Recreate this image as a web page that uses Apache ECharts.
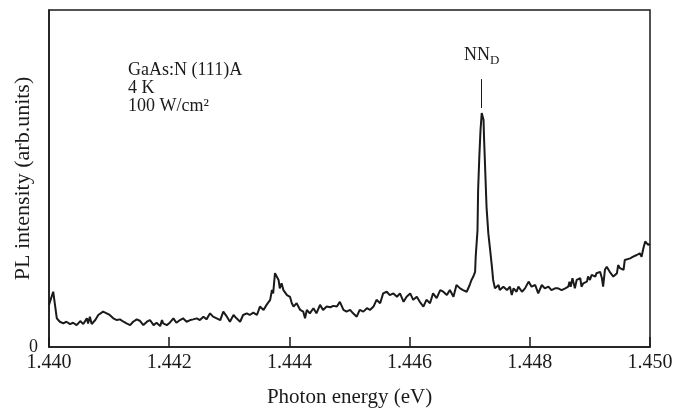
<!DOCTYPE html>
<html>
<head>
<meta charset="utf-8">
<script src="https://cdn.jsdelivr.net/npm/echarts@6/dist/echarts.min.js"></script>
<style>
  html, body { margin: 0; padding: 0; background: #fff; }
  #chart { width: 675px; height: 410px; }
</style>
</head>
<body>
<div id="chart"></div>
<script>
// PL spectrum: photon energy (eV) and intensity (arb. units, 0..100 scale)
const energy = [
  1.44000, 1.44007, 1.44013, 1.44018, 1.44024, 1.44029, 1.44035, 1.44040, 1.44046, 1.44052,
  1.44057, 1.44063, 1.44065, 1.44068, 1.44071, 1.44077, 1.44082, 1.44090, 1.44096, 1.44101,
  1.44107, 1.44113, 1.44118, 1.44124, 1.44129, 1.44135, 1.44140, 1.44146, 1.44151, 1.44157,
  1.44163, 1.44168, 1.44174, 1.44179, 1.44185, 1.44188, 1.44190, 1.44196, 1.44201, 1.44207,
  1.44212, 1.44218, 1.44223, 1.44229, 1.44235, 1.44240, 1.44246, 1.44251, 1.44257, 1.44262,
  1.44268, 1.44273, 1.44279, 1.44285, 1.44290, 1.44296, 1.44301, 1.44307, 1.44312, 1.44318,
  1.44323, 1.44329, 1.44334, 1.44340, 1.44346, 1.44351, 1.44357, 1.44362, 1.44368, 1.44371,
  1.44373, 1.44376, 1.44379, 1.44382, 1.44384, 1.44387, 1.44390, 1.44396, 1.44401, 1.44404,
  1.44407, 1.44412, 1.44418, 1.44423, 1.44426, 1.44429, 1.44434, 1.44440, 1.44445, 1.44451,
  1.44456, 1.44462, 1.44468, 1.44473, 1.44479, 1.44484, 1.44490, 1.44495, 1.44501, 1.44506,
  1.44512, 1.44517, 1.44523, 1.44529, 1.44534, 1.44540, 1.44545, 1.44551, 1.44556, 1.44562,
  1.44567, 1.44573, 1.44579, 1.44584, 1.44590, 1.44595, 1.44601, 1.44606, 1.44612, 1.44617,
  1.44623, 1.44628, 1.44634, 1.44639, 1.44645, 1.44651, 1.44656, 1.44662, 1.44667, 1.44673,
  1.44678, 1.44684, 1.44689, 1.44695, 1.44700, 1.44703, 1.44706, 1.44709, 1.44710, 1.44713,
  1.44714, 1.44716, 1.44718, 1.44720, 1.44723, 1.44724, 1.44726, 1.44728, 1.44731, 1.44734,
  1.44737, 1.44739, 1.44742, 1.44748, 1.44750, 1.44756, 1.44762, 1.44767, 1.44770, 1.44773,
  1.44778, 1.44781, 1.44787, 1.44792, 1.44798, 1.44803, 1.44809, 1.44814, 1.44820, 1.44825,
  1.44831, 1.44836, 1.44842, 1.44847, 1.44853, 1.44859, 1.44864, 1.44866, 1.44868, 1.44871,
  1.44875, 1.44878, 1.44884, 1.44886, 1.44889, 1.44895, 1.44897, 1.44900, 1.44903, 1.44909,
  1.44911, 1.44917, 1.44920, 1.44922, 1.44925, 1.44928, 1.44933, 1.44939, 1.44942, 1.44945,
  1.44947, 1.44950, 1.44956, 1.44958, 1.44961, 1.44967, 1.44972, 1.44978, 1.44983, 1.44986,
  1.44989, 1.44992, 1.44994, 1.44997, 1.45000
];
const intensity = [
  12.5, 16.4, 8.5, 7.5, 7.0, 7.5, 6.8, 7.2, 6.5, 7.7,
  6.8, 8.5, 7.0, 9.0, 6.8, 8.0, 9.5, 10.5, 10.0, 9.5,
  8.5, 8.0, 8.2, 7.5, 7.0, 6.5, 7.5, 8.2, 7.8, 6.5,
  7.5, 8.0, 6.5, 7.2, 6.2, 8.0, 7.0, 6.5, 7.2, 8.5,
  7.2, 8.0, 8.5, 7.5, 8.0, 8.2, 8.5, 8.0, 9.0, 8.2,
  10.0, 9.0, 8.5, 8.0, 10.5, 9.0, 7.5, 9.5, 8.5, 7.5,
  9.5, 10.0, 9.5, 10.2, 9.5, 12.0, 11.0, 12.5, 14.0, 16.9,
  15.9, 21.9, 22.1, 19.9, 17.4, 18.9, 16.9, 15.4, 14.9, 13.0,
  12.0, 13.0, 11.0, 10.5, 8.5, 11.0, 10.0, 11.5, 10.0, 12.5,
  11.0, 12.0, 11.8, 12.2, 12.0, 13.4, 11.0, 10.5, 11.0, 10.0,
  9.0, 11.0, 10.5, 11.5, 11.0, 12.0, 14.0, 13.0, 15.9, 16.4,
  15.4, 15.9, 14.9, 15.9, 13.4, 14.9, 15.9, 14.0, 14.9, 13.4,
  12.0, 14.0, 13.0, 15.9, 14.5, 16.9, 16.4, 15.4, 16.9, 14.9,
  18.4, 17.4, 16.9, 16.4, 18.4, 19.9, 20.9, 22.3, 26.8, 34.7,
  46.6, 56.5, 64.4, 69.4, 67.4, 61.4, 51.5, 41.6, 33.7, 28.8,
  23.8, 19.9, 17.4, 18.4, 16.9, 17.9, 16.9, 17.9, 15.4, 17.4,
  16.4, 17.9, 16.4, 17.4, 19.4, 17.9, 18.4, 15.9, 18.4, 17.4,
  17.9, 16.9, 17.4, 17.4, 16.9, 17.4, 17.9, 19.4, 17.9, 20.4,
  17.4, 19.9, 20.4, 17.9, 18.9, 19.4, 20.9, 19.9, 21.4, 20.9,
  21.9, 22.3, 20.4, 17.9, 22.9, 23.8, 22.3, 20.9, 20.4, 21.9,
  24.3, 23.4, 22.9, 25.8, 25.3, 26.3, 26.8, 27.3, 27.8, 26.8,
  29.3, 31.3, 30.8, 30.3, 30.6
];
const xTicks = { min: 1.440, max: 1.450, step: 0.002 };
const peakEnergy = 1.4472;
const peakMarker = [70.9, 79.5];
const sampleLines = ["GaAs:N (111)A", "4 K", "100 W/cm²"];

const serif = "'Liberation Serif', 'Times New Roman', serif";
const ink = "#1a1a1a";

const chart = echarts.init(document.getElementById("chart"), null, { renderer: "canvas" });
chart.setOption({
  animation: false,
  backgroundColor: "#fff",
  grid: {
    left: 49,
    right: 25,
    top: 10,
    bottom: 63,
    containLabel: false,
    outerBoundsMode: "none",
    show: true,
    borderColor: ink,
    borderWidth: 1.5
  },
  xAxis: {
    type: "value",
    min: xTicks.min,
    max: xTicks.max,
    interval: xTicks.step,
    name: "Photon energy (eV)",
    nameLocation: "middle",
    nameGap: 40,
    nameTextStyle: { fontFamily: serif, fontSize: 21, color: ink },
    axisLine: { lineStyle: { color: ink, width: 1.5 } },
    axisTick: { inside: true, length: 10, lineStyle: { color: ink, width: 1.5 } },
    axisLabel: {
      fontFamily: serif,
      fontSize: 20,
      color: ink,
      margin: 6,
      formatter: (v) => v.toFixed(3)
    },
    splitLine: { show: false }
  },
  yAxis: {
    type: "value",
    min: 0,
    max: 100,
    interval: 100,
    name: "PL intensity (arb.units)",
    nameLocation: "middle",
    nameGap: 15,
    nameMoveOverlap: false,
    nameTextStyle: { fontFamily: serif, fontSize: 22, color: ink },
    axisLine: { show: true, lineStyle: { color: ink, width: 1.5 } },
    axisTick: { show: false },
    axisLabel: {
      fontFamily: serif,
      fontSize: 18,
      color: ink,
      margin: 11,
      formatter: (v) => (v === 0 ? "0" : "")
    },
    splitLine: { show: false }
  },
  graphic: sampleLines.map((line, i) => ({
    type: "text",
    left: 128,
    top: 61 + i * 18,
    style: {
      text: line,
      fontFamily: serif,
      fontSize: 18,
      fill: ink
    }
  })),
  series: [
    {
      type: "line",
      data: energy.map((e, i) => [e, intensity[i]]),
      showSymbol: false,
      lineStyle: { color: ink, width: 2 },
      markLine: {
        silent: true,
        symbol: "none",
        lineStyle: { color: ink, width: 1, type: "solid" },
        label: {
          show: true,
          position: "end",
          distance: 12,
          formatter: "{a|NN}{s|D}",
          rich: {
            a: { fontFamily: serif, fontSize: 18, color: ink },
            s: { fontFamily: serif, fontSize: 13, color: ink, padding: [10, 0, 0, 0] }
          }
        },
        data: [
          [
            { coord: [peakEnergy, peakMarker[0]] },
            { coord: [peakEnergy, peakMarker[1]] }
          ]
        ]
      }
    }
  ]
});
</script>
</body>
</html>
